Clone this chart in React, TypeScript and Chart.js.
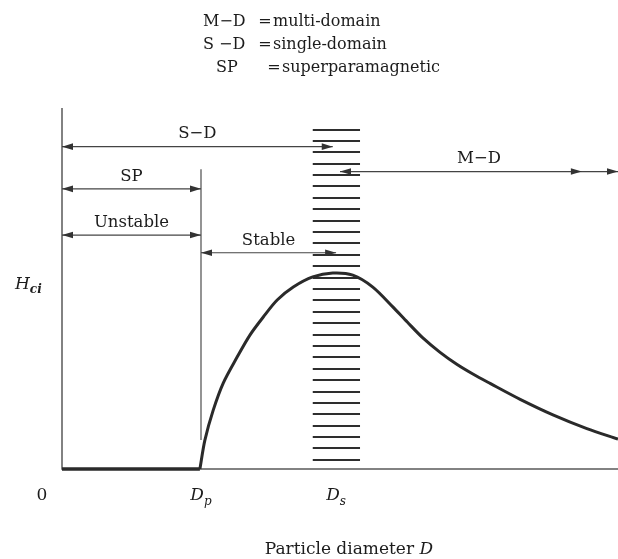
import React, { useEffect, useRef } from "react";
import { Chart, registerables } from "chart.js";

Chart.register(...registerables);

// ---- data (arbitrary units: x = particle diameter, y = coercivity Hci) ----
const DP = 25;
const DS = 49.3;
const flatX = [0, 24.8];
const flatY = [0, 0];
const curveX = [24.8, 25.7, 27.2, 29.0, 31.5, 33.8, 36.2, 38.7, 41.6, 45.1, 48.7, 52.3, 55.9, 59.5, 62.1, 64.9, 68.0, 71.0, 73.9, 77.0, 82.4, 88.3, 94.4, 100];
const curveY = [0, 8.0, 16.3, 23.8, 31.0, 37.1, 42.1, 46.8, 50.4, 53.2, 54.3, 53.7, 50.4, 44.9, 40.7, 36.3, 32.3, 29.0, 26.3, 23.7, 19.3, 15.0, 11.2, 8.3];
const dpLineY = [8, 83];
const hatchX = [45.1, 53.6];
const hatchLevels = [2.5, 5.7, 8.8, 12.0, 15.1, 18.3, 21.4, 24.6, 27.8, 30.9, 34.1, 37.2, 40.4, 43.5, 46.7, 49.9, 53.0, 56.2, 59.3, 62.5, 65.6, 68.8, 72.0, 75.1, 78.3, 81.4, 84.6, 87.7, 90.9, 94.0];
const arrowLabels = ["S\u2212D", "SP", "Unstable", "Stable", "M\u2212D"];
const arrowY = [89.3, 77.6, 64.8, 59.9, 82.4];
const arrowFrom = [0, 0, 0, 25, 50.0];
const arrowTo = [48.7, 25, 25, 49.3, 100];
const arrowExtraHead: (number | null)[] = [null, null, null, null, 93.5];
const tickValues = [0, DP, DS];
const tickMain = ["0", "D", "D"];
const tickSub = ["", "p", "s"];
const legendLeft = ["M\u2212D", "S \u2212D", "SP"];
const legendRight = ["multi-domain", "single-domain", "superparamagnetic"];

const SERIF = "'DejaVu Serif', 'Liberation Serif', serif";
const INK = "#1c1c1c";

function arrowHead(ctx: CanvasRenderingContext2D, x: number, y: number, dir: number) {
  ctx.beginPath();
  ctx.moveTo(x, y);
  ctx.lineTo(x - dir * 11, y - 3.3);
  ctx.lineTo(x - dir * 11, y + 3.3);
  ctx.closePath();
  ctx.fill();
}

const axesPlugin = {
  id: "axesPlugin",
  beforeDatasetsDraw(chart: any) {
    const { ctx, scales } = chart;
    const x = scales.x, y = scales.y;
    const x0 = x.getPixelForValue(0), x1 = x.getPixelForValue(100);
    const y0 = y.getPixelForValue(0), yTop = y.getPixelForValue(100);
    ctx.save();
    ctx.strokeStyle = "#5a5a5a";
    ctx.lineWidth = 1.5;
    ctx.beginPath();
    ctx.moveTo(x0, yTop);
    ctx.lineTo(x0, y0);
    ctx.lineTo(x1, y0);
    ctx.stroke();
    // Dp vertical marker
    const xd = x.getPixelForValue(DP);
    ctx.lineWidth = 1.3;
    ctx.beginPath();
    ctx.moveTo(xd, y.getPixelForValue(dpLineY[1]));
    ctx.lineTo(xd, y.getPixelForValue(dpLineY[0]));
    ctx.stroke();
    // hatch band
    ctx.strokeStyle = "#2e2e2e";
    ctx.lineWidth = 2;
    const hx0 = x.getPixelForValue(hatchX[0]);
    const hx1 = x.getPixelForValue(hatchX[1]);
    hatchLevels.forEach((v) => {
      const py = Math.round(y.getPixelForValue(v));
      ctx.beginPath();
      ctx.moveTo(hx0, py);
      ctx.lineTo(hx1, py);
      ctx.stroke();
    });
    ctx.restore();
  },
  afterDatasetsDraw(chart: any) {
    const { ctx, scales } = chart;
    const x = scales.x, y = scales.y;
    ctx.save();
    // arrows
    ctx.strokeStyle = "#444";
    ctx.lineWidth = 1.2;
    arrowLabels.forEach((lab, i) => {
      const py = y.getPixelForValue(arrowY[i]);
      const a = x.getPixelForValue(arrowFrom[i]);
      const b = x.getPixelForValue(arrowTo[i]);
      ctx.fillStyle = "#333";
      ctx.beginPath();
      ctx.moveTo(a, py);
      ctx.lineTo(b, py);
      ctx.stroke();
      arrowHead(ctx, a, py, -1);
      arrowHead(ctx, b, py, 1);
      const ex = arrowExtraHead[i];
      if (ex !== null) arrowHead(ctx, x.getPixelForValue(ex), py, 1);
      ctx.font = `16.5px ${SERIF}`;
      ctx.textAlign = "center";
      ctx.textBaseline = "middle";
      ctx.fillStyle = INK;
      ctx.fillText(lab, (a + b) / 2, py - 12.5);
    });
    // tick labels
    ctx.fillStyle = INK;
    ctx.textBaseline = "alphabetic";
    const base = y.getPixelForValue(0) + 31;
    tickValues.forEach((v, i) => {
      const px = x.getPixelForValue(v);
      if (i === 0) {
        ctx.font = `17px ${SERIF}`;
        ctx.textAlign = "center";
        ctx.fillText(tickMain[i], px - 20, base);
        return;
      }
      ctx.font = `italic 17px ${SERIF}`;
      const w1 = ctx.measureText(tickMain[i]).width;
      ctx.font = `italic 12px ${SERIF}`;
      const w2 = ctx.measureText(tickSub[i]).width;
      const start = px - (w1 + w2) / 2;
      ctx.textAlign = "left";
      ctx.font = `italic 17px ${SERIF}`;
      ctx.fillText(tickMain[i], start, base);
      ctx.font = `italic 12px ${SERIF}`;
      ctx.fillText(tickSub[i], start + w1, base + 5);
    });
    // axis title
    const titleX = x.getPixelForValue(51.6);
    ctx.font = `17px ${SERIF}`;
    const t1 = "Particle diameter ";
    const tw1 = ctx.measureText(t1).width;
    ctx.font = `italic 17px ${SERIF}`;
    const tw2 = ctx.measureText("D").width;
    const ts = titleX - (tw1 + tw2) / 2;
    ctx.textAlign = "left";
    ctx.font = `17px ${SERIF}`;
    ctx.fillText(t1, ts, 554);
    ctx.font = `italic 17px ${SERIF}`;
    ctx.fillText("D", ts + tw1, 554);
    // y label Hci
    ctx.font = `italic 17px ${SERIF}`;
    ctx.fillText("H", 15, 289);
    const hw = ctx.measureText("H").width;
    ctx.font = `bold italic 12px ${SERIF}`;
    ctx.fillText("ci", 15 + hw, 293);
    // legend
    ctx.font = `16px ${SERIF}`;
    const ly = [26, 49, 72];
    const lx = [203, 203, 216];
    const ex = [265, 265, 274];
    legendLeft.forEach((l, i) => {
      ctx.textAlign = "left";
      ctx.fillText(l, lx[i], ly[i]);
      ctx.textAlign = "center";
      ctx.fillText("=", ex[i], ly[i]);
      ctx.textAlign = "left";
      ctx.fillText(legendRight[i], ex[i] + 8, ly[i]);
    });
    ctx.restore();
  },
};

export default function App() {
  const ref = useRef<HTMLCanvasElement | null>(null);
  useEffect(() => {
    if (!ref.current) return;
    const chart = new Chart(ref.current, {
      type: "line",
      data: {
        datasets: [
          {
            data: flatX.map((v, i) => ({ x: v, y: flatY[i] })),
            borderColor: "#2a2a2a",
            borderWidth: 3.5,
            pointRadius: 0,
            clip: false as any,
          },
          {
            data: curveX.map((v, i) => ({ x: v, y: curveY[i] })),
            borderColor: "#2a2a2a",
            borderWidth: 3,
            pointRadius: 0,
            tension: 0.3,
            clip: false as any,
          },
        ],
      },
      options: {
        animation: false,
        responsive: false,
        layout: { padding: { left: 62, right: 0, top: 108, bottom: 90 } },
        plugins: { legend: { display: false }, tooltip: { enabled: false } },
        scales: {
          x: { type: "linear", min: 0, max: 100, display: false },
          y: { type: "linear", min: 0, max: 100, display: false },
        },
      },
      plugins: [axesPlugin],
    });
    return () => chart.destroy();
  }, []);
  return (
    <div style={{ position: "absolute", left: 0, top: 0, width: 618, height: 559, background: "#fff" }}>
      <canvas ref={ref} width={618} height={559} />
    </div>
  );
}
